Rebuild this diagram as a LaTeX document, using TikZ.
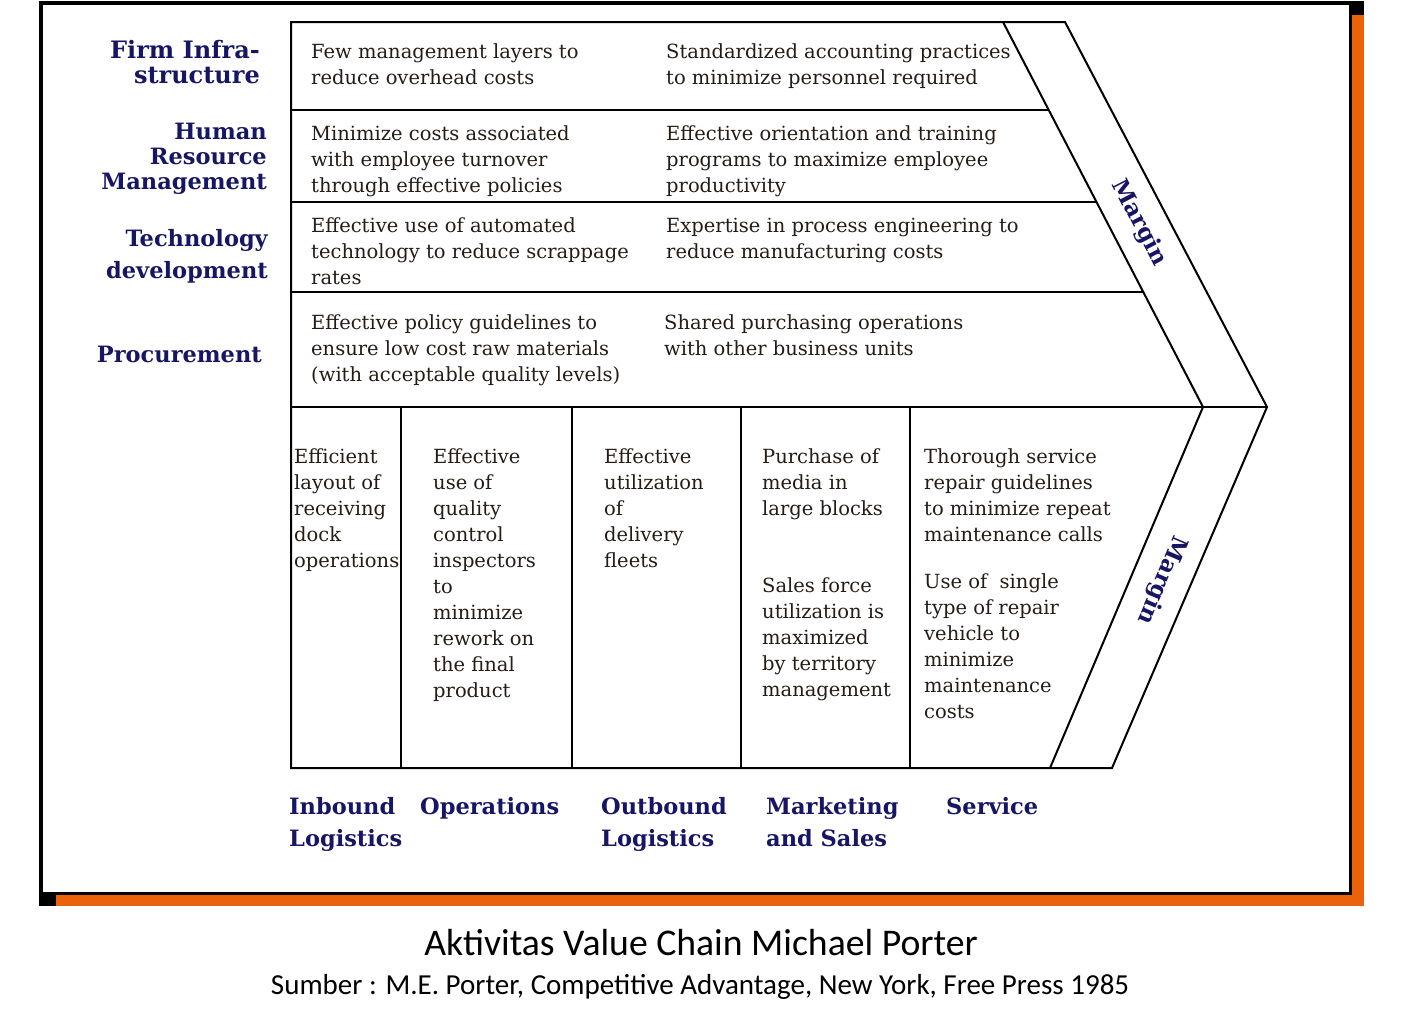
\documentclass[tikz,border=0pt]{standalone}
\usepackage{fontspec}
\setmainfont{DejaVu Serif}
\newfontfamily\capfont{Carlito}
\definecolor{navy}{RGB}{22,22,100}
\definecolor{shadoworange}{RGB}{236,98,10}
\definecolor{bodyink}{RGB}{38,28,22}
\tikzset{
  ln/.style={line width=1.5pt, black},
  dln/.style={line width=2pt, black, line join=miter},
  body/.style={anchor=north west, inner sep=0pt, align=left, text=bodyink,
    font=\fontsize{19.5}{26}\selectfont},
  headr/.style={anchor=north east, inner sep=0pt, align=right, text=navy,
    font=\fontsize{22.5}{25}\selectfont\bfseries},
  headl/.style={anchor=north west, inner sep=0pt, align=left, text=navy,
    font=\fontsize{22.5}{32}\selectfont\bfseries},
  margintxt/.style={inner sep=0pt, text=navy, font=\fontsize{23}{26}\selectfont\bfseries},
  captxt/.style={anchor=base, inner sep=0pt, text=black}
}
\begin{document}
\begin{tikzpicture}[x=1pt,y=-1pt]
\useasboundingbox (0,0) rectangle (1402,1009);
% frame with shadow
\fill[black] (39,1) rectangle (1364,906);
\fill[shadoworange] (56,15) rectangle (1364,906);
\draw[line width=3pt, fill=white] (41.5,3) rectangle (1350,893);

% outline of the chain
\draw[dln] (291,22) -- (1065,22) -- (1267,407) -- (1112,768) -- (291,768) -- cycle;
\draw[dln] (1003,22) -- (1203,407) -- (1050,768);
\draw[ln] (291,110) -- (1048.7,110);
\draw[ln] (291,202) -- (1096.5,202);
\draw[ln] (291,292) -- (1143.3,292);
\draw[ln] (291,407) -- (1267,407);
\foreach \xx in {401,572,741,910} \draw[ln] (\xx,407) -- (\xx,768);

% support activity labels
\node[headr, font=\fontsize{24}{25}\selectfont\bfseries] (firm) at (260,58-17.5) {\strut Firm Infra-\\structure};
\node[headr] (hrm) at (267,139-17.5) {\strut Human\\Resource\\Management};
\node[headr, font=\fontsize{22.5}{32}\selectfont\bfseries] (tech) at (268,246-22.4) {\strut Technology\\development};
\node[headr] (proc) at (262,362-17.5) {\strut Procurement};

% support activity texts
\node[body] (r1a) at (311,58-18.2) {\strut Few management layers to\\reduce overhead costs};
\node[body] (r1b) at (666,58-18.2) {\strut Standardized accounting practices\\to minimize personnel required};
\node[body] (r2a) at (311,140-18.2) {\strut Minimize costs associated\\with employee turnover\\through effective policies};
\node[body] (r2b) at (666,140-18.2) {\strut Effective orientation and training\\programs to maximize employee\\productivity};
\node[body] (r3a) at (311,232-18.2) {\strut Effective use of automated\\technology to reduce scrappage\\rates};
\node[body] (r3b) at (666,232-18.2) {\strut Expertise in process engineering to\\reduce manufacturing costs};
\node[body] (r4a) at (311,329-18.2) {\strut Effective policy guidelines to\\ensure low cost raw materials\\(with acceptable quality levels)};
\node[body] (r4b) at (664,329-18.2) {\strut Shared purchasing operations\\with other business units};

% primary activity texts
\node[body] (p1) at (294,463-18.2) {\strut Efficient\\layout of\\receiving\\dock\\operations};
\node[body] (p2) at (433,463-18.2) {\strut Effective\\use of\\quality\\control\\inspectors\\to\\minimize\\rework on\\the final\\product};
\node[body] (p3) at (604,463-18.2) {\strut Effective\\utilization\\of\\delivery\\fleets};
\node[body] (p4a) at (762,463-18.2) {\strut Purchase of\\media in\\large blocks};
\node[body] (p4b) at (762,592-18.2) {\strut Sales force\\utilization is\\maximized\\by territory\\management};
\node[body] (p5a) at (924,463-18.2) {\strut Thorough service\\repair guidelines\\to minimize repeat\\maintenance calls};
\node[body] (p5b) at (924,588-18.2) {\strut Use of~ single\\type of repair\\vehicle to\\minimize\\maintenance\\costs};

% primary activity labels
\node[headl] (inb) at (289,814-22.4) {\strut Inbound\\Logistics};
\node[headl] (ops) at (420,814-22.4) {\strut Operations};
\node[headl] (outb) at (601,814-22.4) {\strut Outbound\\Logistics};
\node[headl] (mkt) at (766,814-22.4) {\strut Marketing\\and Sales};
\node[headl] (svc) at (946,814-22.4) {\strut Service};

% margin labels
\node[margintxt, rotate=-62.6] (m1) at (1139,223) {Margin};
\node[margintxt, rotate=-113.2] (m2) at (1162,580) {Margin};

% caption
\node[captxt, font=\capfont\fontsize{37.7}{40}\selectfont] (title) at (701,955) {Aktivitas Value Chain Michael Porter};
\node[captxt, font=\capfont\fontsize{29}{32}\selectfont] (src) at (700,994) {Sumber : M.E. Porter, Competitive Advantage, New York, Free Press 1985};
\end{tikzpicture}
\end{document}
